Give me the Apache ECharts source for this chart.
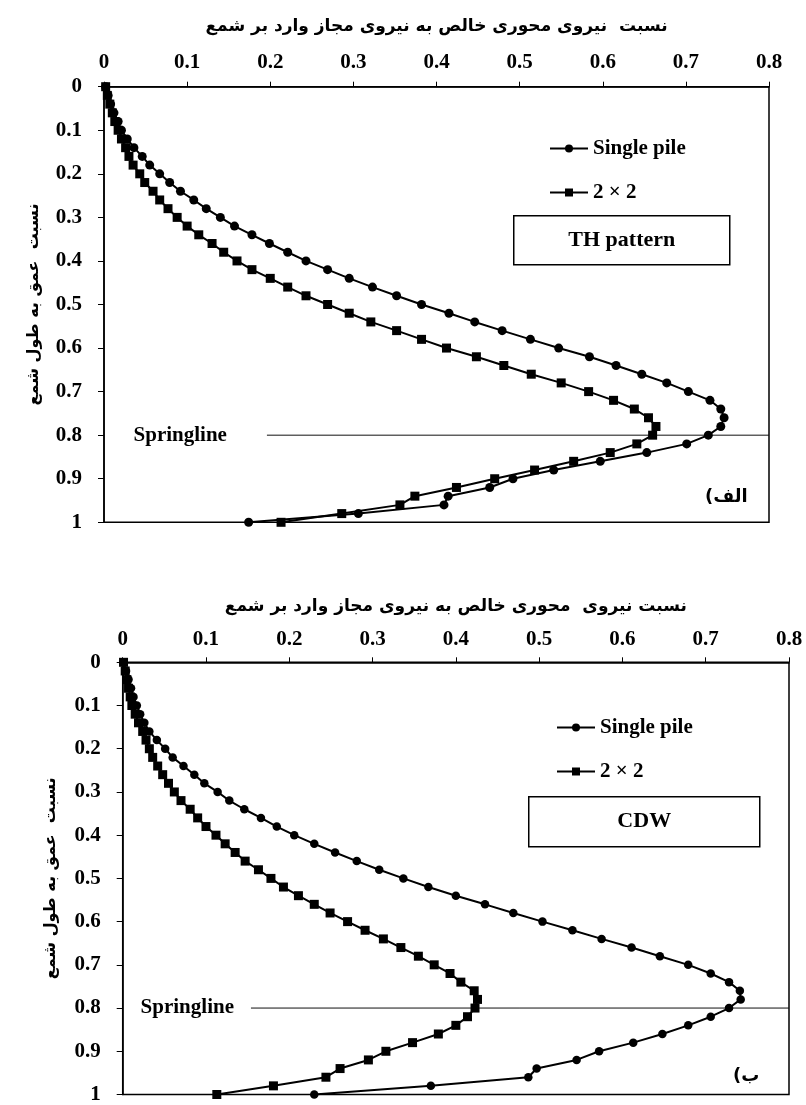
<!DOCTYPE html>
<html><head><meta charset="utf-8">
<script src="https://cdn.jsdelivr.net/npm/echarts@6/dist/echarts.min.js"></script>
<style>html,body{margin:0;padding:0;background:#fff}#c{width:806px;height:1105px}</style>
</head><body><div id="c"></div>
<script>
// depth ratio (y) shared by all series
const depth = [0,0.02,0.04,0.06,0.08,0.10,0.12,0.14,0.16,0.18,0.20,0.22,0.24,0.26,0.28,0.30,0.32,0.34,0.36,0.38,0.40,0.42,0.44,0.46,0.48,0.50,0.52,0.54,0.56,0.58,0.60,0.62,0.64,0.66,0.68,0.70,0.72,0.74,0.76,0.78,0.80,0.82,0.84,0.86,0.88,0.90,0.92,0.94,0.96,0.98,1.00];
// (a) TH pattern
const thSingle = [0.002,0.005,0.008,0.012,0.017,0.021,0.028,0.036,0.046,0.055,0.067,0.079,0.092,0.108,0.123,0.140,0.157,0.178,0.199,0.221,0.243,0.269,0.295,0.323,0.352,0.382,0.415,0.446,0.479,0.513,0.547,0.584,0.616,0.647,0.677,0.703,0.729,0.742,0.746,0.742,0.727,0.701,0.653,0.597,0.541,0.492,0.464,0.414,0.409,0.306,0.174];
const th2x2 = [0.002,0.004,0.007,0.010,0.013,0.017,0.021,0.026,0.030,0.035,0.043,0.049,0.059,0.067,0.077,0.088,0.100,0.114,0.130,0.144,0.160,0.178,0.200,0.221,0.243,0.269,0.295,0.321,0.352,0.382,0.412,0.448,0.481,0.514,0.550,0.583,0.613,0.638,0.655,0.664,0.660,0.641,0.609,0.565,0.518,0.470,0.424,0.374,0.356,0.286,0.213];
// (b) CDW
const cdwSingle = [0.001,0.004,0.007,0.010,0.013,0.017,0.021,0.026,0.032,0.041,0.051,0.060,0.073,0.086,0.098,0.114,0.128,0.146,0.166,0.185,0.206,0.230,0.255,0.281,0.308,0.337,0.367,0.400,0.435,0.469,0.504,0.540,0.575,0.611,0.645,0.679,0.706,0.728,0.741,0.742,0.728,0.706,0.679,0.648,0.613,0.572,0.545,0.497,0.487,0.370,0.230];
const cdw2x2 = [0.001,0.003,0.005,0.007,0.009,0.011,0.015,0.019,0.024,0.028,0.032,0.036,0.042,0.048,0.055,0.062,0.070,0.081,0.090,0.100,0.112,0.123,0.135,0.147,0.163,0.178,0.193,0.211,0.230,0.249,0.270,0.291,0.313,0.334,0.355,0.374,0.393,0.406,0.422,0.426,0.423,0.414,0.400,0.379,0.348,0.316,0.295,0.261,0.244,0.181,0.113];
// springline annotation
const springDepth = 0.8;
const springStartTH = 0.196;
const springStartCDW = 0.154;
const seriesNames = ['Single pile', '2 × 2'];
const xTitle1 = 'نسبت  نیروی محوری خالص به نیروی مجاز وارد بر شمع';
const xTitle2 = 'نسبت نیروی  محوری خالص به نیروی مجاز وارد بر شمع';
const yTitle = 'نسبت  عمق به طول شمع';
const panelA = '(الف';
const panelB = '(ب';

const serif = "'Liberation Serif','Times New Roman',serif";
const arab = "'DejaVu Sans',sans-serif";
const pair = (xs) => xs.map((v, i) => [v, depth[i]]);

function xAxisOf(idx, title, gap, margin) {
  return {
    gridIndex: idx, type: 'value', position: 'top', min: 0, max: 0.8, interval: 0.1,
    name: title, nameLocation: 'middle', nameGap: gap,
    nameTextStyle: {fontFamily: arab, fontWeight: 'bold', fontSize: 17, color: '#000'},
    axisLine: {show: true, lineStyle: {color: '#000', width: 1.5}},
    axisTick: {show: true, inside: false, length: 5, lineStyle: {color: '#000', width: 1}},
    axisLabel: {margin: margin, fontFamily: serif, fontWeight: 'bold', fontSize: 21, color: '#000'},
    splitLine: {show: false}
  };
}
function yAxisOf(idx, gap) {
  return {
    gridIndex: idx, type: 'value', inverse: true, min: 0, max: 1, interval: 0.1,
    name: yTitle, nameLocation: 'middle', nameRotate: 90, nameGap: gap,
    nameTextStyle: {fontFamily: arab, fontWeight: 'bold', fontSize: 16, color: '#000'},
    axisLine: {show: true, lineStyle: {color: '#000', width: 1.5}},
    axisTick: {show: true, inside: false, length: 6, lineStyle: {color: '#000', width: 1}},
    axisLabel: {margin: 22, fontFamily: serif, fontWeight: 'bold', fontSize: 21, color: '#000'},
    splitLine: {show: false}
  };
}
function dataSeries(name, idx, vals, sym, size) {
  return {
    name: name, type: 'line', xAxisIndex: idx, yAxisIndex: idx, data: pair(vals),
    symbol: sym, symbolSize: size, showAllSymbol: true,
    lineStyle: {color: '#000', width: 2}, itemStyle: {color: '#000'},
    emphasis: {disabled: true}, animation: false, z: 3
  };
}
function springSeries(idx, start, dist) {
  return [{
    type: 'line', xAxisIndex: idx, yAxisIndex: idx, silent: true, animation: false,
    data: [[start, springDepth], [0.8, springDepth]], symbol: 'none',
    lineStyle: {color: '#111', width: 1}, z: 2
  }, {
    type: 'scatter', xAxisIndex: idx, yAxisIndex: idx, silent: true, animation: false,
    data: [[start, springDepth]], symbolSize: 0, itemStyle: {color: '#000', opacity: 1},
    label: {show: true, position: 'left', distance: dist, formatter: 'Springline', opacity: 1,
      fontFamily: serif, fontWeight: 'bold', fontSize: 21, color: '#000'}
  }];
}
function legendOf(left, top) {
  return {
    data: seriesNames, orient: 'vertical', left: left, top: top, padding: 0,
    itemWidth: 38, itemHeight: 10, itemGap: 23, selectedMode: false,
    textStyle: {fontFamily: serif, fontWeight: 'bold', fontSize: 21, color: '#000'}
  };
}
function boxOf(x, y, w, h, txt) {
  return {
    type: 'group', left: x, top: y, children: [
      {type: 'rect', shape: {x: 0, y: 0, width: w, height: h},
       style: {fill: '#fff', stroke: '#000', lineWidth: 1.5}},
      {type: 'text', x: w / 2, y: h / 2,
       style: {text: txt, fill: '#000', align: 'center', verticalAlign: 'middle',
               font: 'bold 22px ' + serif}}
    ]
  };
}

const chart = echarts.init(document.getElementById('c'), null, {renderer: 'canvas'});
chart.setOption({
  backgroundColor: '#fff',
  animation: false,
  grid: [
    {left: 104, top: 86.7, width: 665, height: 435.6, show: true, borderColor: '#000', borderWidth: 1.5},
    {left: 122.7, top: 662.3, width: 666.3, height: 437, show: true, borderColor: '#000', borderWidth: 1.5}
  ],
  xAxis: [xAxisOf(0, xTitle1, 52, 14), xAxisOf(1, xTitle2, 47, 12)],
  yAxis: [yAxisOf(0, 62), yAxisOf(1, 64)],
  legend: [legendOf(549, 138), legendOf(556, 717)],
  series: [
    dataSeries(seriesNames[0], 0, thSingle, 'circle', 9),
    dataSeries(seriesNames[1], 0, th2x2, 'rect', 9),
    dataSeries(seriesNames[0], 1, cdwSingle, 'circle', 8.5),
    dataSeries(seriesNames[1], 1, cdw2x2, 'rect', 9),
    ...springSeries(0, springStartTH, 40),
    ...springSeries(1, springStartCDW, 17)
  ],
  graphic: [
    boxOf(513, 215, 216, 49, 'TH pattern'),
    boxOf(528, 796, 231, 50, 'CDW'),
    {type: 'text', left: 705, top: 488, style: {text: panelA, fill: '#000', font: 'bold 18px ' + arab}},
    {type: 'text', left: 733, top: 1067, style: {text: panelB, fill: '#000', font: 'bold 18px ' + arab}}
  ]
});
</script>
</body></html>
